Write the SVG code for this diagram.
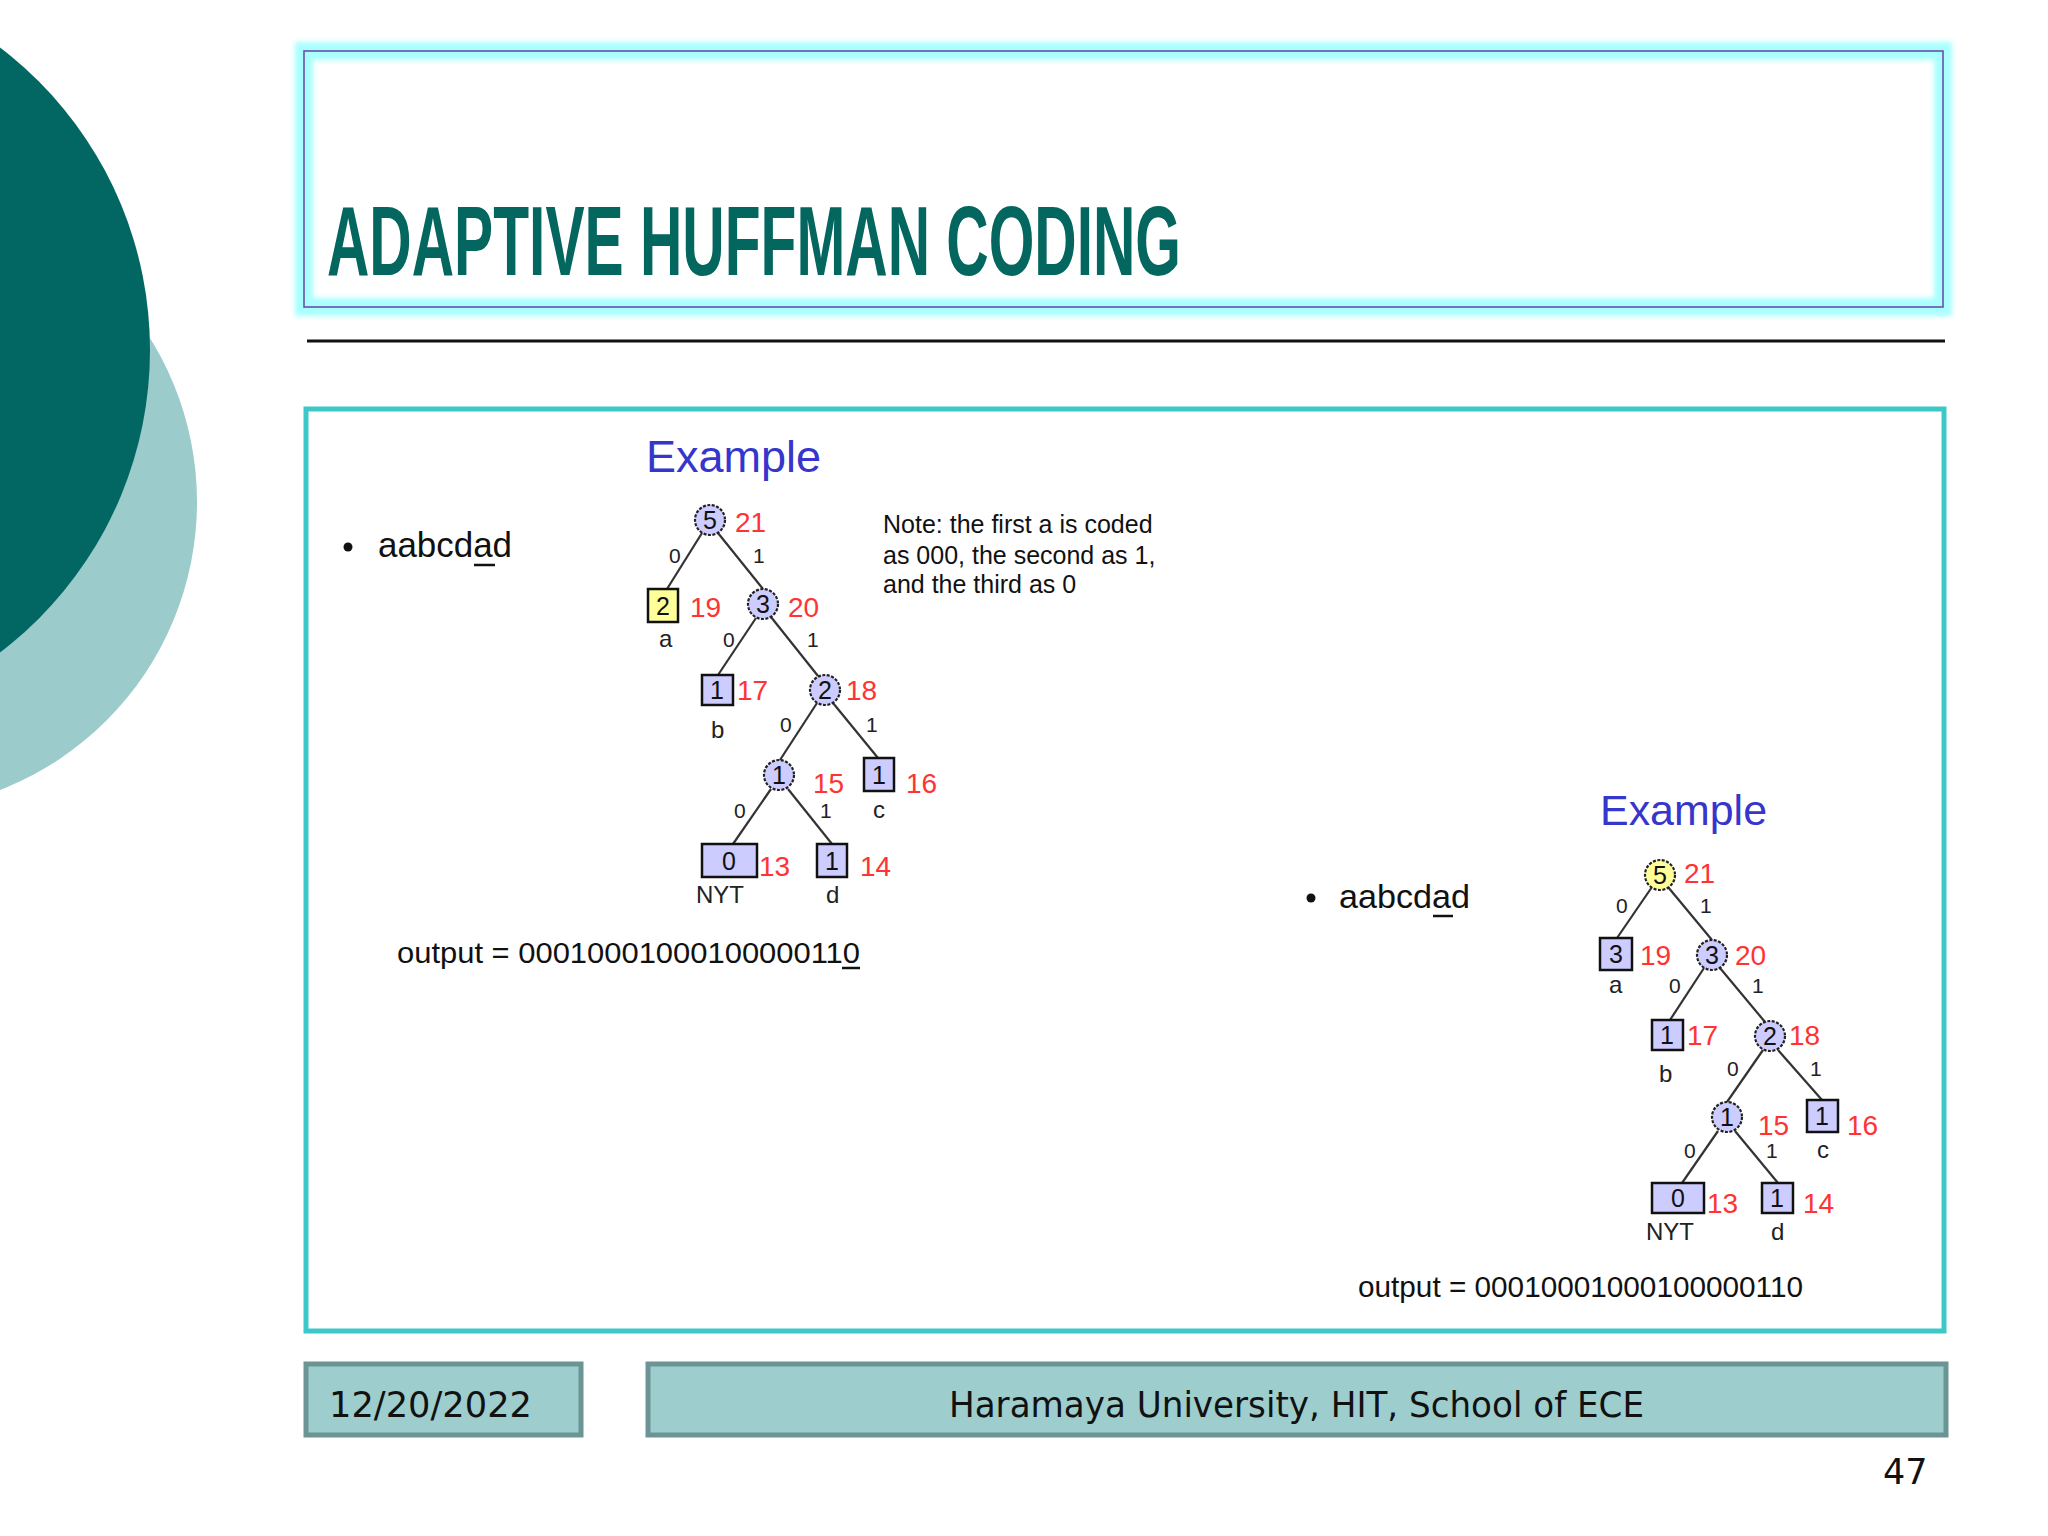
<svg xmlns="http://www.w3.org/2000/svg" width="2048" height="1536" viewBox="0 0 2048 1536">
<defs>
<filter id="glow" x="-5%" y="-20%" width="110%" height="140%"><feGaussianBlur stdDeviation="2.5"/></filter>
</defs>
<style>
.edge{stroke:#333;stroke-width:2.2;fill:none}
.inode{fill:#CCCCFF;stroke:#222;stroke-width:2.2;stroke-dasharray:3 1.5}
.leaf{fill:#CCCCFF;stroke:#111;stroke-width:2.5}
.yl{fill:#FFFF99}
.dig{font-family:"Liberation Sans",Arial,sans-serif;font-size:25px;fill:#111;text-anchor:middle}
.red{font-family:"Liberation Sans",Arial,sans-serif;font-size:28px;fill:#FF3333}
.bit{font-family:"Liberation Sans",Arial,sans-serif;font-size:21px;fill:#222}
.lab{font-family:"Liberation Sans",Arial,sans-serif;font-size:24px;fill:#222}
.ex{font-family:"Liberation Sans",Arial,sans-serif;fill:#3636CC}
.txt{font-family:"Liberation Sans",Arial,sans-serif;fill:#111}
.foot{font-family:"DejaVu Sans",Verdana,sans-serif;font-size:35px;fill:#111}
.fbox{fill:#9DCDCD;stroke:#6C9494;stroke-width:5}
</style>
<rect width="2048" height="1536" fill="#FFFFFF"/>
<g id="decor">
<circle cx="-112" cy="502" r="309" fill="#9CCBCB"/>
<circle cx="-230" cy="350" r="380" fill="#026762"/>
</g>
<g id="title">
<rect x="304" y="51" width="1639" height="256" fill="none" stroke="#A8FFFF" stroke-width="18" filter="url(#glow)"/>
<rect x="304" y="51" width="1639" height="256" fill="none" stroke="#6B4FA8" stroke-width="1.6"/>
<text x="327" y="275" font-family="Liberation Sans,Arial,sans-serif" font-weight="bold" font-size="98" fill="#03665F" textLength="854" lengthAdjust="spacingAndGlyphs">ADAPTIVE HUFFMAN CODING</text>
</g>
<line x1="307" y1="341" x2="1945" y2="341" stroke="#111" stroke-width="3"/>
<rect id="content" x="306" y="409" width="1638" height="922" fill="#FFFFFF" stroke="#3CC8C8" stroke-width="5"/>

<g id="left-panel">
<circle cx="348" cy="547" r="4.5" fill="#111"/>
<text class="txt" x="378" y="557" font-size="35" textLength="134" lengthAdjust="spacingAndGlyphs">aabcdad</text>
<line x1="474" y1="565" x2="495" y2="565" stroke="#111" stroke-width="2.5"/>
<text class="ex" x="646" y="472" font-size="45" textLength="175" lengthAdjust="spacingAndGlyphs">Example</text>
<text class="txt" font-size="25"><tspan x="883" y="533">Note: the first a is coded</tspan><tspan x="883" y="564">as 000, the second as 1,</tspan><tspan x="883" y="593">and the third as 0</tspan></text>
<text class="txt" x="397" y="963" font-size="29" textLength="463" lengthAdjust="spacingAndGlyphs">output = 00010001000100000110</text>
<line x1="842" y1="968" x2="860" y2="968" stroke="#111" stroke-width="2.5"/>
</g>

<g id="connectors-1">
<line class="edge" x1="702" y1="533" x2="667" y2="589"/>
<line class="edge" x1="718" y1="533" x2="763" y2="589"/>
<line class="edge" x1="756" y1="618" x2="718" y2="675"/>
<line class="edge" x1="771" y1="617" x2="818" y2="676"/>
<line class="edge" x1="817" y1="703" x2="780" y2="760"/>
<line class="edge" x1="833" y1="703" x2="878" y2="758"/>
<line class="edge" x1="771" y1="789" x2="733" y2="844"/>
<line class="edge" x1="788" y1="789" x2="832" y2="844"/>
</g>
<g id="edge-labels-1">
<text class="bit" x="669" y="563">0</text>
<text class="bit" x="753" y="563">1</text>
<text class="bit" x="723" y="647">0</text>
<text class="bit" x="807" y="647">1</text>
<text class="bit" x="780" y="732">0</text>
<text class="bit" x="866" y="732">1</text>
<text class="bit" x="734" y="818">0</text>
<text class="bit" x="820" y="818">1</text>
</g>
<g id="t1-root"><circle class="inode" cx="710" cy="520" r="15"/><text class="dig" x="710" y="529">5</text><text class="red" x="735" y="532">21</text></g>
<g id="t1-a"><rect class="leaf yl" x="648" y="589" width="30" height="33"/><text class="dig" x="663" y="615">2</text><text class="red" x="690" y="617">19</text><text class="lab" x="659" y="647">a</text></g>
<g id="t1-n3"><circle class="inode" cx="763" cy="604" r="15"/><text class="dig" x="763" y="613">3</text><text class="red" x="788" y="617">20</text></g>
<g id="t1-b"><rect class="leaf" x="702" y="675" width="31" height="30"/><text class="dig" x="717" y="699">1</text><text class="red" x="737" y="700">17</text><text class="lab" x="711" y="738">b</text></g>
<g id="t1-n2"><circle class="inode" cx="825" cy="690" r="15"/><text class="dig" x="825" y="699">2</text><text class="red" x="846" y="700">18</text></g>
<g id="t1-n1"><circle class="inode" cx="779" cy="775" r="15"/><text class="dig" x="779" y="784">1</text><text class="red" x="813" y="793">15</text></g>
<g id="t1-c"><rect class="leaf" x="864" y="758" width="30" height="33"/><text class="dig" x="879" y="784">1</text><text class="red" x="906" y="793">16</text><text class="lab" x="873" y="818">c</text></g>
<g id="t1-nyt"><rect class="leaf" x="702" y="844" width="55" height="33"/><text class="dig" x="729" y="870">0</text><text class="red" x="759" y="876">13</text><text class="lab" x="696" y="903">NYT</text></g>
<g id="t1-d"><rect class="leaf" x="817" y="844" width="30" height="33"/><text class="dig" x="832" y="870">1</text><text class="red" x="860" y="876">14</text><text class="lab" x="826" y="903">d</text></g>

<g id="right-panel">
<circle cx="1311" cy="898" r="4.5" fill="#111"/>
<text class="txt" x="1339" y="908" font-size="34" textLength="131" lengthAdjust="spacingAndGlyphs">aabcdad</text>
<line x1="1433" y1="916" x2="1453" y2="916" stroke="#111" stroke-width="2.5"/>
<text class="ex" x="1600" y="825" font-size="43" textLength="167" lengthAdjust="spacingAndGlyphs">Example</text>
<text class="txt" x="1358" y="1297" font-size="29" textLength="445" lengthAdjust="spacingAndGlyphs">output = 00010001000100000110</text>
</g>

<g id="connectors-2">
<line class="edge" x1="1652" y1="887" x2="1617" y2="938"/>
<line class="edge" x1="1668" y1="887" x2="1712" y2="940"/>
<line class="edge" x1="1704" y1="968" x2="1670" y2="1020"/>
<line class="edge" x1="1720" y1="968" x2="1765" y2="1022"/>
<line class="edge" x1="1763" y1="1050" x2="1727" y2="1102"/>
<line class="edge" x1="1778" y1="1050" x2="1822" y2="1100"/>
<line class="edge" x1="1718" y1="1131" x2="1682" y2="1183"/>
<line class="edge" x1="1735" y1="1131" x2="1778" y2="1183"/>
</g>
<g id="edge-labels-2">
<text class="bit" x="1616" y="913">0</text>
<text class="bit" x="1700" y="913">1</text>
<text class="bit" x="1669" y="993">0</text>
<text class="bit" x="1752" y="993">1</text>
<text class="bit" x="1727" y="1076">0</text>
<text class="bit" x="1810" y="1076">1</text>
<text class="bit" x="1684" y="1158">0</text>
<text class="bit" x="1766" y="1158">1</text>
</g>
<g id="t2-root"><circle class="inode yl" cx="1660" cy="875" r="15"/><text class="dig" x="1660" y="884">5</text><text class="red" x="1684" y="883">21</text></g>
<g id="t2-a"><rect class="leaf" x="1600" y="938" width="32" height="32"/><text class="dig" x="1616" y="963">3</text><text class="red" x="1640" y="965">19</text><text class="lab" x="1609" y="993">a</text></g>
<g id="t2-n3"><circle class="inode" cx="1712" cy="955" r="15"/><text class="dig" x="1712" y="964">3</text><text class="red" x="1735" y="965">20</text></g>
<g id="t2-b"><rect class="leaf" x="1652" y="1020" width="31" height="30"/><text class="dig" x="1667" y="1044">1</text><text class="red" x="1687" y="1045">17</text><text class="lab" x="1659" y="1082">b</text></g>
<g id="t2-n2"><circle class="inode" cx="1770" cy="1036" r="15"/><text class="dig" x="1770" y="1045">2</text><text class="red" x="1789" y="1045">18</text></g>
<g id="t2-n1"><circle class="inode" cx="1727" cy="1117" r="15"/><text class="dig" x="1727" y="1126">1</text><text class="red" x="1758" y="1135">15</text></g>
<g id="t2-c"><rect class="leaf" x="1807" y="1100" width="31" height="32"/><text class="dig" x="1822" y="1125">1</text><text class="red" x="1847" y="1135">16</text><text class="lab" x="1817" y="1158">c</text></g>
<g id="t2-nyt"><rect class="leaf" x="1652" y="1183" width="52" height="30"/><text class="dig" x="1678" y="1207">0</text><text class="red" x="1707" y="1213">13</text><text class="lab" x="1646" y="1240">NYT</text></g>
<g id="t2-d"><rect class="leaf" x="1762" y="1183" width="31" height="30"/><text class="dig" x="1777" y="1207">1</text><text class="red" x="1803" y="1213">14</text><text class="lab" x="1771" y="1240">d</text></g>

<g id="footer">
<rect class="fbox" x="306" y="1364" width="275" height="71"/>
<text class="foot" x="329" y="1417" textLength="203" lengthAdjust="spacingAndGlyphs">12/20/2022</text>
<rect class="fbox" x="648" y="1364" width="1298" height="71"/>
<text class="foot" x="949" y="1417" textLength="695" lengthAdjust="spacingAndGlyphs">Haramaya University, HIT, School of ECE</text>
<text class="foot" x="1883" y="1484" font-size="34">47</text>
</g>
</svg>
